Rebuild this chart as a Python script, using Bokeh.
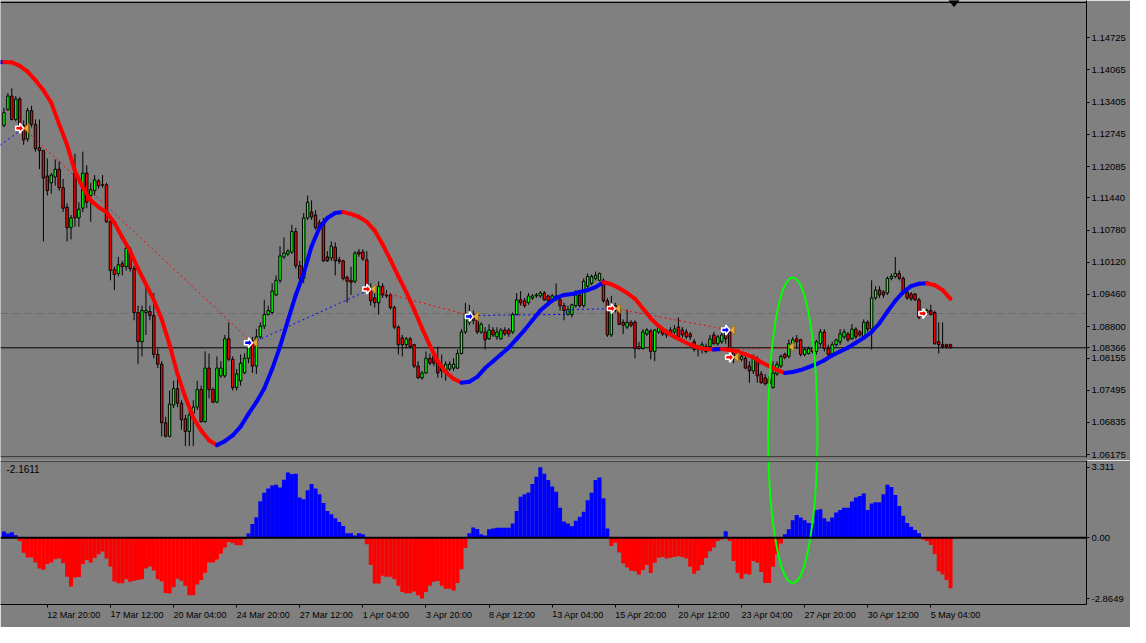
from bokeh.plotting import figure
from bokeh.layouts import column
from bokeh.models import Range1d, FixedTicker, Span, Label, PrintfTickFormatter, CustomJSTickFormatter
from bokeh.embed import file_html
from bokeh.resources import INLINE

# ---------------- data (EURUSD H4) ----------------
opens = [1.1293,1.1325,1.1353,1.1305,1.1347,1.1293,1.1265,1.1323,1.1295,1.1247,
 1.1241,1.1189,1.1175,1.1187,1.1203,1.1165,1.1125,1.1083,1.1195,1.1103,
 1.1123,1.1195,1.1149,1.1159,1.1179,1.1171,1.1171,1.1095,1.0997,1.0989,
 1.1009,1.1003,1.1039,1.0999,1.0909,1.0849,1.0909,1.0911,1.0903,1.0823,
 1.0803,1.0683,1.0655,1.0719,1.0753,1.0723,1.0691,1.0665,1.0703,1.0715,
 1.0751,1.0685,1.0795,1.0751,1.0725,1.0779,1.0779,1.0855,1.0813,1.0755,
 1.0769,1.0785,1.0815,1.0851,1.0799,1.0859,1.0881,1.0905,1.0909,1.0945,
 1.0975,1.1023,1.1029,1.1033,1.1075,1.1005,1.0979,1.1103,1.1115,1.1109,
 1.1093,1.1095,1.1023,1.1021,1.1043,1.1017,1.1015,1.0981,1.0975,1.0973,
 1.1033,1.1033,1.1017,1.0957,1.0939,1.0929,1.0963,1.0945,1.0945,1.0919,
 1.0879,1.0857,1.0843,1.0855,1.0843,1.0799,1.0775,1.0785,1.0815,1.0819,
 1.0809,1.0795,1.0789,1.0793,1.0795,1.0795,1.0825,1.0869,1.0889,1.0905,
 1.0893,1.0869,1.0869,1.0855,1.0873,1.0859,1.0855,1.0873,1.0873,1.0869,
 1.0905,1.0935,1.0933,1.0929,1.0939,1.0943,1.0943,1.0949,1.0943,1.0933,
 1.0935,1.0935,1.0923,1.0905,1.0905,1.0923,1.0945,1.0923,1.0963,1.0969,
 1.0979,1.0975,1.0975,1.0933,1.0863,1.0923,1.0913,1.0889,1.0879,1.0889,
 1.0889,1.0839,1.0835,1.0865,1.0871,1.0829,1.0869,1.0873,1.0869,1.0873,
 1.0869,1.0879,1.0873,1.0869,1.0865,1.0849,1.0839,1.0833,1.0839,1.0839,
 1.0863,1.0845,1.0849,1.0873,1.0869,1.0829,1.0813,1.0813,1.0815,1.0799,
 1.0789,1.0815,1.0783,1.0775,1.0773,1.0755,1.0783,1.0799,1.0823,1.0819,
 1.0845,1.0855,1.0853,1.0823,1.0825,1.0835,1.0829,1.0845,1.0869,1.0835,
 1.0823,1.0843,1.0849,1.0859,1.0865,1.0855,1.0875,1.0869,1.0859,1.0889,
 1.0875,1.0939,1.0955,1.0951,1.0949,1.0979,1.0983,1.0989,1.0979,1.0951,
 1.0947,1.0947,1.0935,1.0913,1.0909,1.0913,1.0909,1.0849,1.0843,1.0843,1.0843]

closes = [1.1319,1.1353,1.1305,1.1347,1.1289,1.1263,1.1323,1.1295,1.1245,1.1241,
 1.1185,1.1159,1.1191,1.1203,1.1165,1.1123,1.1083,1.1103,1.1103,1.1121,
 1.1195,1.1135,1.1161,1.1181,1.1169,1.1170,1.1095,1.0995,1.0987,1.1007,
 1.1003,1.1041,1.0999,1.0909,1.0849,1.0913,1.0913,1.0903,1.0823,1.0803,
 1.0683,1.0655,1.0721,1.0753,1.0723,1.0689,1.0665,1.0699,1.0715,1.0751,
 1.0685,1.0795,1.0751,1.0725,1.0795,1.0795,1.0855,1.0813,1.0755,1.0783,
 1.0805,1.0815,1.0837,1.0799,1.0859,1.0881,1.0905,1.0913,1.0953,1.0975,
 1.1025,1.1031,1.1035,1.1075,1.1005,1.0979,1.1103,1.1135,1.1105,1.1083,
 1.1083,1.1015,1.1015,1.1045,1.1015,1.1014,1.0979,1.0973,1.0971,1.1031,
 1.1029,1.1019,1.0955,1.0933,1.0929,1.0963,1.0945,1.0943,1.0919,1.0879,
 1.0843,1.0843,1.0855,1.0839,1.0799,1.0775,1.0785,1.0815,1.0805,1.0805,
 1.0785,1.0789,1.0803,1.0803,1.0803,1.0825,1.0869,1.0905,1.0905,1.0893,
 1.0869,1.0885,1.0853,1.0873,1.0863,1.0869,1.0873,1.0865,1.0865,1.0905,
 1.0935,1.0929,1.0923,1.0943,1.0943,1.0945,1.0949,1.0935,1.0933,1.0943,
 1.0943,1.0923,1.0913,1.0915,1.0925,1.0945,1.0923,1.0973,1.0983,1.0983,
 1.0985,1.0989,1.0933,1.0863,1.0923,1.0913,1.0885,1.0883,1.0889,1.0883,
 1.0835,1.0835,1.0869,1.0873,1.0829,1.0873,1.0879,1.0865,1.0863,1.0865,
 1.0875,1.0859,1.0863,1.0859,1.0859,1.0833,1.0833,1.0843,1.0829,1.0855,
 1.0845,1.0859,1.0863,1.0855,1.0829,1.0815,1.0819,1.0819,1.0795,1.0789,
 1.0815,1.0779,1.0765,1.0763,1.0763,1.0785,1.0803,1.0819,1.0817,1.0845,
 1.0853,1.0849,1.0823,1.0833,1.0835,1.0829,1.0849,1.0869,1.0835,1.0823,
 1.0843,1.0853,1.0865,1.0869,1.0853,1.0875,1.0859,1.0863,1.0889,1.0875,
 1.0939,1.0955,1.0945,1.0945,1.0979,1.0983,1.0989,1.0979,1.0949,1.0939,
 1.0937,1.0935,1.0899,1.0903,1.0913,1.0905,1.0845,1.0843,1.0839,1.0839,1.0837]

highs = [1.1329,1.1359,1.1369,1.1353,1.1351,1.1303,1.1329,1.1333,1.1305,1.1305,
 1.1243,1.1225,1.1195,1.1223,1.1219,1.1183,1.1133,1.1109,1.1235,1.1135,
 1.1239,1.1211,1.1175,1.1191,1.1183,1.1191,1.1175,1.1109,1.1003,1.1023,
 1.1015,1.1045,1.1043,1.1005,1.0923,1.0923,1.0963,1.0923,1.0949,1.0835,
 1.0809,1.0695,1.0749,1.0769,1.0773,1.0729,1.0699,1.0723,1.0729,1.0769,
 1.0759,1.0829,1.0825,1.0755,1.0819,1.0809,1.0863,1.0889,1.0819,1.0793,
 1.0823,1.0825,1.0845,1.0859,1.0875,1.0889,1.0935,1.0923,1.0969,1.0985,
 1.1045,1.1063,1.1039,1.1089,1.1083,1.1015,1.1113,1.1149,1.1139,1.1119,
 1.1099,1.1103,1.1035,1.1055,1.1053,1.1023,1.1017,1.0985,1.1003,1.1035,
 1.1039,1.1039,1.1035,1.0969,1.0949,1.0973,1.0969,1.0955,1.0949,1.0923,
 1.0883,1.0863,1.0859,1.0859,1.0845,1.0809,1.0789,1.0829,1.0825,1.0829,
 1.0839,1.0823,1.0809,1.0809,1.0815,1.0833,1.0875,1.0929,1.0925,1.0913,
 1.0899,1.0889,1.0879,1.0885,1.0879,1.0879,1.0877,1.0879,1.0877,1.0909,
 1.0949,1.0953,1.0939,1.0949,1.0947,1.0949,1.0953,1.0953,1.0945,1.0947,
 1.0969,1.0943,1.0929,1.0923,1.0927,1.0955,1.0949,1.0979,1.0989,1.0987,
 1.0993,1.0991,1.0979,1.0939,1.0943,1.0929,1.0923,1.0895,1.0915,1.0893,
 1.0893,1.0849,1.0875,1.0877,1.0875,1.0875,1.0885,1.0879,1.0875,1.0879,
 1.0883,1.0899,1.0879,1.0875,1.0869,1.0855,1.0843,1.0849,1.0845,1.0863,
 1.0869,1.0863,1.0869,1.0879,1.0875,1.0835,1.0825,1.0823,1.0823,1.0809,
 1.0823,1.0819,1.0789,1.0783,1.0779,1.0809,1.0809,1.0823,1.0827,1.0853,
 1.0859,1.0863,1.0855,1.0837,1.0839,1.0839,1.0853,1.0875,1.0875,1.0843,
 1.0849,1.0855,1.0875,1.0875,1.0869,1.0885,1.0879,1.0873,1.0895,1.0893,
 1.0975,1.0963,1.0963,1.0955,1.0983,1.0989,1.1023,1.0995,1.0983,1.0955,
 1.0951,1.0949,1.0939,1.0919,1.0917,1.0925,1.0913,1.0889,1.0889,1.0845,1.0845]

lows = [1.1289,1.1323,1.1303,1.1301,1.1279,1.1253,1.1259,1.1289,1.1239,1.1203,
 1.1055,1.1149,1.1153,1.1169,1.1159,1.1115,1.1055,1.1059,1.1085,1.1085,
 1.1115,1.1123,1.1095,1.1149,1.1163,1.1165,1.1093,1.0975,1.0955,1.0983,
 1.0985,1.0995,1.0993,1.0893,1.0803,1.0819,1.0863,1.0893,1.0815,1.0795,
 1.0655,1.0653,1.0653,1.0713,1.0715,1.0669,1.0635,1.0635,1.0635,1.0709,
 1.0683,1.0683,1.0733,1.0723,1.0723,1.0775,1.0775,1.0809,1.0749,1.0749,
 1.0759,1.0783,1.0805,1.0785,1.0783,1.0855,1.0875,1.0903,1.0905,1.0943,
 1.0969,1.1019,1.1025,1.1029,1.0999,1.0969,1.0969,1.1099,1.1099,1.1079,
 1.1075,1.1013,1.1013,1.1015,1.0985,1.1009,1.0975,1.0929,1.0945,1.0969,
 1.1023,1.1015,1.0949,1.0923,1.0919,1.0905,1.0939,1.0939,1.0915,1.0875,
 1.0823,1.0819,1.0835,1.0835,1.0795,1.0773,1.0771,1.0783,1.0801,1.0799,
 1.0775,1.0775,1.0769,1.0789,1.0789,1.0793,1.0823,1.0865,1.0883,1.0885,
 1.0865,1.0865,1.0833,1.0853,1.0859,1.0853,1.0853,1.0861,1.0859,1.0865,
 1.0903,1.0923,1.0919,1.0925,1.0935,1.0939,1.0939,1.0933,1.0929,1.0931,
 1.0933,1.0913,1.0893,1.0903,1.0899,1.0919,1.0919,1.0919,1.0959,1.0965,
 1.0975,1.0973,1.0929,1.0859,1.0859,1.0909,1.0883,1.0865,1.0875,1.0879,
 1.0815,1.0833,1.0833,1.0861,1.0813,1.0809,1.0865,1.0861,1.0857,1.0859,
 1.0865,1.0855,1.0857,1.0855,1.0853,1.0829,1.0819,1.0825,1.0825,1.0835,
 1.0843,1.0841,1.0845,1.0845,1.0819,1.0805,1.0809,1.0809,1.0793,1.0765,
 1.0783,1.0765,1.0763,1.0759,1.0755,1.0753,1.0779,1.0795,1.0813,1.0815,
 1.0835,1.0835,1.0819,1.0819,1.0823,1.0825,1.0823,1.0839,1.0829,1.0819,
 1.0819,1.0839,1.0843,1.0855,1.0849,1.0853,1.0855,1.0859,1.0855,1.0869,
 1.0833,1.0935,1.0939,1.0939,1.0945,1.0975,1.0979,1.0975,1.0945,1.0935,
 1.0933,1.0933,1.0895,1.0899,1.0905,1.0903,1.0843,1.0825,1.0835,1.0835,1.0835]

# oscillator histogram (one value per candle)
osc = [0.29,0.19,0.25,0.11,-0.16,-0.71,-0.93,-0.93,-1.16,-1.45,
 -1.50,-1.23,-1.17,-1.01,-0.98,-1.20,-1.83,-2.29,-1.87,-1.84,
 -1.23,-1.05,-1.16,-0.95,-0.78,-0.65,-0.98,-1.35,-2.05,-2.14,
 -2.14,-1.95,-2.07,-2.02,-1.99,-1.95,-1.45,-1.35,-1.54,-1.95,
 -2.05,-2.59,-2.62,-2.32,-1.92,-2.02,-2.25,-2.70,-2.70,-2.20,
 -1.99,-1.65,-1.17,-1.16,-1.02,-0.75,-0.46,-0.20,-0.26,-0.35,
 -0.35,-0.08,0.19,0.64,0.96,1.71,2.11,2.30,2.45,2.48,
 2.35,2.71,3.05,2.98,3.00,1.88,1.80,2.22,2.52,2.30,
 2.03,1.63,1.25,1.10,0.91,0.73,0.55,0.21,0.21,0.10,
 0.21,0.16,-0.31,-1.28,-2.15,-2.15,-1.78,-1.83,-1.83,-1.95,
 -2.25,-2.55,-2.60,-2.60,-2.52,-2.70,-2.85,-2.55,-2.25,-2.07,
 -2.03,-2.25,-2.40,-2.40,-2.48,-2.13,-1.48,-0.49,0.21,0.48,
 0.40,0.16,0.10,0.39,0.43,0.46,0.46,0.46,0.46,0.66,
 1.25,1.92,2.03,2.12,2.52,2.85,3.30,3.00,2.70,2.40,
 2.15,1.40,0.76,0.66,0.54,0.79,0.98,1.21,1.75,2.10,
 2.70,2.82,1.85,0.43,-0.39,-0.24,-0.69,-1.21,-1.40,-1.55,
 -1.58,-1.73,-1.51,-1.28,-1.66,-1.18,-0.94,-0.91,-0.98,-0.94,
 -0.91,-0.87,-0.91,-0.98,-1.36,-1.69,-1.54,-1.28,-0.95,-0.64,
 -0.46,-0.16,-0.09,0.30,-0.16,-1.09,-1.66,-1.92,-1.69,-1.73,
 -1.09,-1.18,-1.61,-2.13,-2.13,-1.36,-0.76,-0.27,0.16,0.39,
 0.81,1.06,0.95,0.81,0.69,0.66,1.30,1.33,0.91,0.76,
 0.95,1.18,1.30,1.40,1.40,1.70,1.88,1.95,2.07,1.30,
 1.60,1.66,1.66,2.03,2.48,2.37,2.00,1.48,1.03,0.69,
 0.51,0.36,0.21,-0.09,-0.16,-0.34,-0.76,-1.58,-1.73,-1.98,-2.37]

# smoothed trend line, sampled every second candle starting at candle -2
trend_bars = list(range(-2, 241, 2))
trend = [1.1422,1.1423,1.1422,1.1415,1.1403,1.1385,1.1365,1.1339,1.1295,1.1253,1.1199,
 1.1165,1.1139,1.1125,1.1115,1.1093,1.1063,1.1035,1.0999,1.0967,1.0935,
 1.0895,1.0843,1.0783,1.0735,1.0693,1.0667,1.0647,1.0637,1.0645,1.0657,
 1.0675,1.0701,1.0725,1.0753,1.0793,1.0839,1.0893,1.0945,1.0989,1.1045,
 1.1083,1.1103,1.1113,1.1115,1.1111,1.1105,1.1095,1.1077,1.1049,1.1017,
 1.0983,1.0951,1.0915,1.0877,1.0841,1.0809,1.0787,1.0773,1.0765,1.0767,
 1.0777,1.0795,1.0809,1.0823,1.0837,1.0855,1.0873,1.0893,1.0913,1.0927,
 1.0939,1.0945,1.0947,1.0951,1.0955,1.0961,1.0971,1.0967,1.0959,1.0949,
 1.0937,1.0917,1.0897,1.0881,1.0869,1.0859,1.0851,1.0843,1.0837,1.0834,
 1.0833,1.0834,1.0832,1.0829,1.0823,1.0817,1.0807,1.0799,1.0791,1.0785,
 1.0787,1.0791,1.0797,1.0803,1.0811,1.0821,1.0829,1.0837,1.0847,1.0857,
 1.0869,1.0887,1.0911,1.0933,1.0951,1.0963,1.0968,1.0969,1.0965,1.0955,
 1.0937]

# signal arrows
sig_bars = [5, 63, 93, 119, 155, 184, 185, 234]
sig_prices = [1.1287, 1.0847, 1.0957, 1.0901, 1.0917, 1.0873, 1.0817, 1.0907]
sig_kind = ["sell", "buy", "sell", "buy", "sell", "buy", "sell", "sell"]
flag_bars = [5, 63, 93, 119, 155, 184, 185, 199]
flag_prices = [1.1287, 1.0847, 1.0957, 1.0901, 1.0917, 1.0873, 1.0817, 1.0839]

# dotted signal-connection lines
blue_paths_bars = [[-1, 5], [63, 93], [119, 142, 144, 155]]
blue_paths_prices = [[1.1252, 1.1287], [1.0847, 1.0957], [1.0903, 1.0905, 1.0915, 1.0917]]
red_paths_bars = [[5, 63], [93, 119], [155, 184], [186, 199]]
red_paths_prices = [[1.1287, 1.0847], [1.0957, 1.0901], [1.0917, 1.0873], [1.0833, 1.0837]]

bid_price = 1.08366
level_price = 1.0907
indicator_value_text = "-2.1611"

price_ticks = [1.14725, 1.14065, 1.13405, 1.12745, 1.12085, 1.11440, 1.10780,
               1.10120, 1.09460, 1.08800, 1.08155, 1.07495, 1.06835, 1.06175]
osc_ticks = [3.311, 0.0, -2.8649]
date_tick_bars = [11, 27, 43, 59, 75, 91, 107, 123, 139, 155, 171, 187, 203, 219, 235]
date_tick_labels = ["12 Mar 20:00", "17 Mar 12:00", "20 Mar 04:00", "24 Mar 20:00",
                    "27 Mar 12:00", "1 Apr 04:00", "3 Apr 20:00", "8 Apr 12:00",
                    "13 Apr 04:00", "15 Apr 20:00", "20 Apr 12:00", "23 Apr 04:00",
                    "27 Apr 20:00", "30 Apr 12:00", "5 May 04:00"]

# ---------------- styling / layout ----------------
BG = "#808080"
BULL = "#00FF00"
BEAR = "#FF0000"
UP = "#0000FF"
DN = "#FF0000"
FONT = "Liberation Sans"
W = 1130
H = 627
FRAME_W = 1086
X0, X1 = -0.875, 274.475
P_LO, P_HI = 1.06116, 1.1549
O_LO, O_HI = -3.1325, 3.616
TOP_FRAME_H = 457
TOP_H = TOP_FRAME_H + 3
BOT_FRAME_H = 147
BAR_PER_PX = (X1 - X0) / FRAME_W
PRICE_PER_PX = (P_HI - P_LO) / TOP_FRAME_H
OSC_PER_PX = (O_HI - O_LO) / BOT_FRAME_H

x_range = Range1d(X0, X1)

p1 = figure(width=W, height=TOP_H, x_range=x_range, y_range=Range1d(P_LO, P_HI),
            output_backend="svg", toolbar_location=None, y_axis_location="right",
            x_axis_location=None, min_border_left=0, min_border_right=W - FRAME_W,
            min_border_top=0, min_border_bottom=TOP_H - TOP_FRAME_H,
            background_fill_color=BG, border_fill_color=BG, outline_line_color=None)
p1.grid.visible = False

p2 = figure(width=W, height=H - TOP_H, x_range=x_range, y_range=Range1d(O_LO, O_HI),
            output_backend="svg", toolbar_location=None, y_axis_location="right",
            min_border_left=0, min_border_right=W - FRAME_W, min_border_top=0,
            min_border_bottom=H - TOP_H - BOT_FRAME_H,
            background_fill_color=BG, border_fill_color=BG, outline_line_color=None)
p2.grid.visible = False

def style_axis(ax, size="9.5px"):
    ax.axis_line_color = "black"
    ax.major_tick_line_color = "black"
    ax.minor_tick_line_color = None
    ax.major_tick_in = 0
    ax.major_tick_out = 3
    ax.major_label_standoff = 2
    ax.major_label_text_font = FONT
    ax.major_label_text_font_size = size
    ax.major_label_text_color = "black"

ya = p1.yaxis[0]
ya.ticker = FixedTicker(ticks=price_ticks + [bid_price])
ya.formatter = PrintfTickFormatter(format="%.5f")
style_axis(ya)

ya2 = p2.yaxis[0]
ya2.ticker = FixedTicker(ticks=osc_ticks)
ya2.formatter = CustomJSTickFormatter(code="return tick == 0 ? '0.00' : String(tick);")
style_axis(ya2)

xa = p2.xaxis[0]
xa.ticker = FixedTicker(ticks=date_tick_bars)
xa.major_label_overrides = dict(zip(date_tick_bars, date_tick_labels))
style_axis(xa, "9px")
xa.major_label_standoff = 7
xa.major_label_orientation = -0.0001   # tiny negative angle -> labels start at the tick

# ---------- price panel ----------
p1.add_layout(Span(location=bid_price, dimension="width", line_color="black",
                   line_width=1, level="underlay"))
p1.add_layout(Span(location=level_price, dimension="width", line_color="#6E6E6E",
                   line_width=1, line_dash="8 4", level="underlay"))
p1.add_layout(Span(location=P_LO + 0.5 * PRICE_PER_PX, dimension="width",
                   line_color="black", line_width=1))
p1.add_layout(Span(location=P_HI - 2 * PRICE_PER_PX, dimension="width",
                   line_color="black", line_width=1))

bars = list(range(len(closes)))
tops = [max(o, c) for o, c in zip(opens, closes)]
bots = [min(o, c) for o, c in zip(opens, closes)]
cols = [BULL if c >= o else BEAR for o, c in zip(opens, closes)]
p1.segment(x0=bars, y0=lows, x1=bars, y1=highs, line_color="black", line_width=1)
p1.vbar(x=bars, width=0.62, top=tops, bottom=bots, fill_color=cols,
        line_color="black", line_width=1)

p1.multi_line(xs=blue_paths_bars, ys=blue_paths_prices, line_color=UP,
              line_width=1, line_dash="2 3")
p1.multi_line(xs=red_paths_bars, ys=red_paths_prices, line_color=DN,
              line_width=1, line_dash="2 3")

seg_col = [UP if trend[j + 1] > trend[j] else DN for j in range(len(trend) - 1)]
p1.segment(x0=trend_bars[:-1], y0=trend[:-1], x1=trend_bars[1:], y1=trend[1:],
           line_color=seg_col, line_width=4, line_cap="round")

# arrow icons (shape given in pixels around the signal point)
def shape(bar, price, pts):
    return ([bar + dx * BAR_PER_PX for dx, dy in pts],
            [price + dy * PRICE_PER_PX for dx, dy in pts])

arrow_pts = [(-8, -2), (-4, -2), (-4, -5), (0, 0), (-4, 5), (-4, 2), (-8, 2)]
flag_pts = [(0, 0), (5, 5), (5, -5)]
fx, fy = [], []
for b, pr in zip(flag_bars, flag_prices):
    a, c = shape(b, pr, flag_pts)
    fx.append(a); fy.append(c)
p1.patches(xs=fx, ys=fy, fill_color="#E8A838", line_color="#9A6A10", line_width=0.8)
ax_, ay_, ac_ = [], [], []
for b, pr, k in zip(sig_bars, sig_prices, sig_kind):
    a, c = shape(b, pr, arrow_pts)
    ax_.append(a); ay_.append(c); ac_.append(UP if k == "buy" else DN)
p1.patches(xs=ax_, ys=ay_, fill_color=ac_, line_color="white", line_width=1.5)

# chart-shift marker at the top
tri_x, tri_y = shape(240.9, P_HI, [(-5, 0), (5, 0), (0, -6)])
p1.patch(x=tri_x, y=tri_y, fill_color="black", line_color="black")

# highlight ellipse (spans both panels)
ell_bar, ell_w = 200.0, 12.5
p1.ellipse(x=ell_bar, y=1.0666, width=ell_w, height=0.063, fill_color=None,
           line_color="#00FF00", line_width=2)

# ---------- oscillator panel ----------
ocol = [UP if v >= 0 else DN for v in osc]
p2.vbar(x=bars, width=1.02, top=osc, bottom=0, fill_color=ocol, line_color=None)
p2.add_layout(Span(location=0, dimension="width", line_color="black", line_width=2))
p2.add_layout(Span(location=O_HI - 0.5 * OSC_PER_PX, dimension="width",
                   line_color="black", line_width=1))
p2.ellipse(x=ell_bar, y=4.9225, width=ell_w, height=14.1, fill_color=None,
           line_color="#00FF00", line_width=2)
p2.add_layout(Label(x=6, y=3.2, x_units="screen", text=indicator_value_text,
                    text_font=FONT, text_font_size="10px", text_color="black",
                    text_baseline="middle"))

layout = column(p1, p2, spacing=0)
open("out.html", "w").write(file_html(layout, INLINE))
